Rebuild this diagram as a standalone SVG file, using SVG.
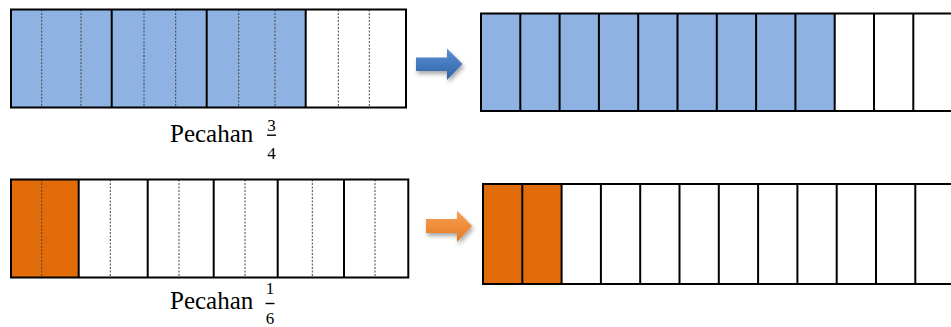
<svg xmlns="http://www.w3.org/2000/svg" width="951" height="327" viewBox="0 0 951 327">
<style>
.outer{fill:none;stroke:#000;stroke-width:2}
.div{stroke:#000;stroke-width:2}
.dash{stroke:#444;stroke-width:1;stroke-dasharray:2 1.5}
.blue{fill:#8EB3E2}
.orange{fill:#E36C0A}
.lbl{font-family:"Liberation Serif","DejaVu Serif",serif;font-size:25px;fill:#000}
.frac{font-family:"Liberation Serif","DejaVu Serif",serif;font-size:17px;fill:#000;text-anchor:middle}
</style>
<defs>
<linearGradient id="gb" x1="0" y1="0" x2="0" y2="1">
<stop offset="0" stop-color="#5B8FD3"/><stop offset="1" stop-color="#2E63A8"/>
</linearGradient>
<linearGradient id="go" x1="0" y1="0" x2="0" y2="1">
<stop offset="0" stop-color="#FBA054"/><stop offset="1" stop-color="#E27A22"/>
</linearGradient>
<filter id="sh" x="-20%" y="-30%" width="150%" height="170%">
<feDropShadow dx="1.5" dy="3" stdDeviation="2" flood-color="#000" flood-opacity="0.35"/>
</filter>
</defs>

<g id="bar-3-4">
<rect class="blue" x="11" y="9.5" width="295" height="98"/>
<rect fill="#fff" x="306" y="9.5" width="100" height="98"/>
<line class="dash" x1="41.7" y1="9.5" x2="41.7" y2="107.5"/>
<line class="dash" x1="81" y1="9.5" x2="81" y2="107.5"/>
<line class="dash" x1="144" y1="9.5" x2="144" y2="107.5"/>
<line class="dash" x1="175.7" y1="9.5" x2="175.7" y2="107.5"/>
<line class="dash" x1="238.7" y1="9.5" x2="238.7" y2="107.5"/>
<line class="dash" x1="275" y1="9.5" x2="275" y2="107.5"/>
<line class="dash" x1="338.3" y1="9.5" x2="338.3" y2="107.5"/>
<line class="dash" x1="369.3" y1="9.5" x2="369.3" y2="107.5"/>
<line class="div" x1="111.7" y1="9.5" x2="111.7" y2="107.5"/>
<line class="div" x1="206.7" y1="9.5" x2="206.7" y2="107.5"/>
<line class="div" x1="305.7" y1="9.5" x2="305.7" y2="107.5"/>
<rect class="outer" x="11" y="9.5" width="395" height="98"/>
</g>

<g id="label-3-4">
<text class="lbl" x="170" y="142" font-family="Liberation Serif, serif">Pecahan</text>
<text class="frac" x="271.5" y="130.5" font-family="Liberation Serif, serif">3</text>
<line x1="267" y1="135.2" x2="276" y2="135.2" stroke="#000" stroke-width="1.4"/>
<text class="frac" x="271.5" y="158.5" font-family="Liberation Serif, serif">4</text>
</g>

<g id="bar-9-12">
<rect class="blue" x="481" y="13.5" width="353.7" height="97.5"/>
<rect fill="#fff" x="834.7" y="13.5" width="118" height="97.5"/>
<g class="div">
<line x1="520.3" y1="13.5" x2="520.3" y2="111"/>
<line x1="559.6" y1="13.5" x2="559.6" y2="111"/>
<line x1="598.9" y1="13.5" x2="598.9" y2="111"/>
<line x1="638.2" y1="13.5" x2="638.2" y2="111"/>
<line x1="677.5" y1="13.5" x2="677.5" y2="111"/>
<line x1="716.8" y1="13.5" x2="716.8" y2="111"/>
<line x1="756.1" y1="13.5" x2="756.1" y2="111"/>
<line x1="795.4" y1="13.5" x2="795.4" y2="111"/>
<line x1="834.7" y1="13.5" x2="834.7" y2="111"/>
<line x1="874" y1="13.5" x2="874" y2="111"/>
<line x1="913.3" y1="13.5" x2="913.3" y2="111"/>
</g>
<rect class="outer" x="481" y="13.5" width="471.6" height="97.5"/>
</g>

<g id="bar-1-6">
<rect class="orange" x="11" y="179.5" width="67.7" height="98"/>
<rect fill="#fff" x="78.7" y="179.5" width="329.6" height="98"/>
<line class="dash" x1="41.7" y1="179.5" x2="41.7" y2="277.5"/>
<line class="dash" x1="110.3" y1="179.5" x2="110.3" y2="277.5"/>
<line class="dash" x1="179" y1="179.5" x2="179" y2="277.5"/>
<line class="dash" x1="245" y1="179.5" x2="245" y2="277.5"/>
<line class="dash" x1="312.3" y1="179.5" x2="312.3" y2="277.5"/>
<line class="dash" x1="375" y1="179.5" x2="375" y2="277.5"/>
<line class="div" x1="78.7" y1="179.5" x2="78.7" y2="277.5"/>
<line class="div" x1="147.7" y1="179.5" x2="147.7" y2="277.5"/>
<line class="div" x1="213.7" y1="179.5" x2="213.7" y2="277.5"/>
<line class="div" x1="277.7" y1="179.5" x2="277.7" y2="277.5"/>
<line class="div" x1="344" y1="179.5" x2="344" y2="277.5"/>
<rect class="outer" x="11" y="179.5" width="397.3" height="98"/>
</g>

<g id="label-1-6">
<text class="lbl" x="170" y="308.5" font-family="Liberation Serif, serif">Pecahan</text>
<text class="frac" x="270" y="293.5" font-family="Liberation Serif, serif">1</text>
<line x1="265.5" y1="303.5" x2="274.5" y2="303.5" stroke="#000" stroke-width="1.4"/>
<text class="frac" x="270" y="323.5" font-family="Liberation Serif, serif">6</text>
</g>

<g id="bar-2-12">
<rect class="orange" x="483" y="184" width="78.6" height="100"/>
<rect fill="#fff" x="561.6" y="184" width="393" height="100"/>
<g class="div">
<line x1="522.3" y1="184" x2="522.3" y2="284"/>
<line x1="561.6" y1="184" x2="561.6" y2="284"/>
<line x1="600.9" y1="184" x2="600.9" y2="284"/>
<line x1="640.2" y1="184" x2="640.2" y2="284"/>
<line x1="679.5" y1="184" x2="679.5" y2="284"/>
<line x1="718.8" y1="184" x2="718.8" y2="284"/>
<line x1="758.1" y1="184" x2="758.1" y2="284"/>
<line x1="797.4" y1="184" x2="797.4" y2="284"/>
<line x1="836.7" y1="184" x2="836.7" y2="284"/>
<line x1="876" y1="184" x2="876" y2="284"/>
<line x1="915.3" y1="184" x2="915.3" y2="284"/>
</g>
<rect class="outer" x="483" y="184" width="471.6" height="100"/>
</g>

<g id="connectors">
<polygon fill="url(#gb)" filter="url(#sh)" points="416,57.5 447,57.5 447,48.5 462.5,64 447,80 447,71 416,71"/>
<polygon fill="url(#go)" filter="url(#sh)" points="426,219 457,219 457,210.5 472,226 457,242 457,233 426,233"/>
</g>
</svg>
